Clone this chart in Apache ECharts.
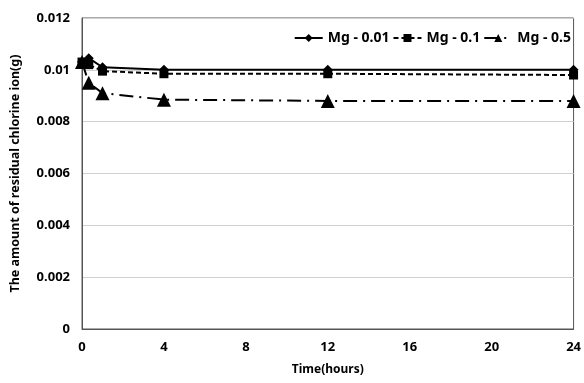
<!DOCTYPE html>
<html>
<head>
<meta charset="utf-8">
<script src="https://cdn.jsdelivr.net/npm/echarts@6/dist/echarts.min.js"></script>
<style>
  html, body { margin: 0; padding: 0; background: #fff; }
  #chart { width: 584px; height: 383px; }
</style>
</head>
<body>
<div id="chart"></div>
<script>
// time points (hours)
var hours = [0, 0.33, 1, 4, 12, 24];
// residual chlorine ion (g)
var mg001 = [0.0103, 0.01045, 0.0101, 0.0100, 0.0100, 0.0100];
var mg01 = [0.0103, 0.0102, 0.00995, 0.00985, 0.00985, 0.0098];
var mg05 = [0.0103, 0.0095, 0.0091, 0.00885, 0.0088, 0.0088];
var seriesNames = ['Mg - 0.01', 'Mg - 0.1', 'Mg - 0.5'];

function pairs(vals) {
  return hours.map(function (h, i) { return [h, vals[i]]; });
}

var font = 'Noto Sans';
var chart = echarts.init(document.getElementById('chart'));
chart.setOption({
  animation: false,
  textStyle: { fontFamily: font },
  grid: {
    left: 82, right: 6, top: 18, bottom: 54,
    show: true, borderColor: '#555', borderWidth: 1
  },
  legend: {
    top: 26, right: 8,
    itemWidth: 28, itemHeight: 10, itemGap: 3,
    textStyle: { fontFamily: font, fontWeight: 'bold', fontSize: 14, color: '#000' },
    data: seriesNames
  },
  xAxis: {
    type: 'value', min: 0, max: 24, interval: 4,
    name: 'Time(hours)', nameLocation: 'middle', nameGap: 35,
    nameTextStyle: { fontFamily: font, fontWeight: 'bold', fontSize: 12, color: '#000' },
    axisLine: { show: true, lineStyle: { color: '#555' } },
    axisTick: { show: false },
    splitLine: { show: false },
    axisLabel: { margin: 12, fontFamily: font, fontWeight: 'bold', fontSize: 13, color: '#000' }
  },
  yAxis: {
    type: 'value', min: 0, max: 0.012, interval: 0.002,
    name: 'The amount of residual chlorine ion(g)', nameLocation: 'middle', nameGap: 60,
    nameTextStyle: { fontFamily: font, fontWeight: 'bold', fontSize: 12.5, color: '#000' },
    axisLine: { show: true, lineStyle: { color: '#555' } },
    axisTick: { show: false },
    splitLine: { lineStyle: { color: '#d0d0d0' } },
    axisLabel: { margin: 12, fontFamily: font, fontWeight: 'bold', fontSize: 13, color: '#000',
      formatter: function (v) { return String(+v.toFixed(3)); } }
  },
  series: [
    {
      name: seriesNames[0], type: 'line', data: pairs(mg001),
      symbol: 'diamond', symbolSize: 10,
      lineStyle: { color: '#000', width: 2 },
      itemStyle: { color: '#000' }
    },
    {
      name: seriesNames[1], type: 'line', data: pairs(mg01),
      symbol: 'rect', symbolSize: 9,
      lineStyle: { color: '#000', width: 2, type: [5, 3] },
      itemStyle: { color: '#000' }
    },
    {
      name: seriesNames[2], type: 'line', data: pairs(mg05),
      symbol: 'triangle', symbolSize: 14,
      lineStyle: { color: '#000', width: 2, type: [14, 6, 2, 6] },
      itemStyle: { color: '#000' }
    }
  ]
});
</script>
</body>
</html>
